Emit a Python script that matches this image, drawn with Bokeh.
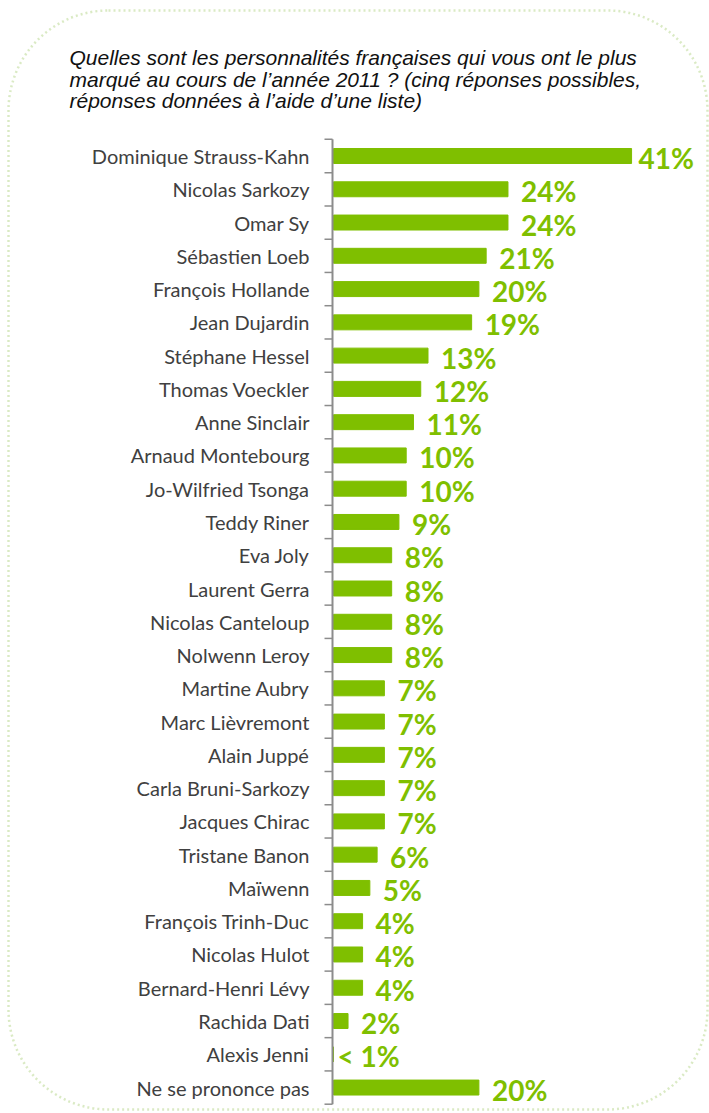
from bokeh.plotting import figure
from bokeh.models import Range1d, ColumnDataSource, BoxAnnotation
from bokeh.core.properties import value
from bokeh.embed import file_html
from bokeh.resources import INLINE

# ---- data ----
names = ["Dominique Strauss-Kahn", "Nicolas Sarkozy", "Omar Sy", "Sébastien Loeb",
         "François Hollande", "Jean Dujardin", "Stéphane Hessel", "Thomas Voeckler",
         "Anne Sinclair", "Arnaud Montebourg", "Jo-Wilfried Tsonga", "Teddy Riner",
         "Eva Joly", "Laurent Gerra", "Nicolas Canteloup", "Nolwenn Leroy",
         "Martine Aubry", "Marc Lièvremont", "Alain Juppé", "Carla Bruni-Sarkozy",
         "Jacques Chirac", "Tristane Banon", "Maïwenn", "François Trinh-Duc",
         "Nicolas Hulot", "Bernard-Henri Lévy", "Rachida Dati", "Alexis Jenni",
         "Ne se prononce pas"]
values = [41, 24, 24, 21, 20, 19, 13, 12, 11, 10, 10, 9, 8, 8, 8, 8, 7, 7, 7, 7, 7,
          6, 5, 4, 4, 4, 2, 0, 20]
value_labels = ["41%", "24%", "24%", "21%", "20%", "19%", "13%", "12%", "11%", "10%",
                "10%", "9%", "8%", "8%", "8%", "8%", "7%", "7%", "7%", "7%", "7%",
                "6%", "5%", "4%", "4%", "4%", "2%", "< 1%", "20%"]
title_lines = ["Quelles sont les personnalités françaises qui vous ont le plus",
               "marqué au cours de l\u2019année 2011 ? (cinq réponses possibles,",
               "réponses données à l\u2019aide d\u2019une liste)"]

# ---- layout ----
W, H = 709, 1113
X0_PX = 333.0          # pixel position of value 0
PX_PER_UNIT = 7.27
Y0_PX = 155.5          # pixel position of first row centre
ROW_PX = 33.27
n = len(names)

def px_x(px):
    return (px - X0_PX) / PX_PER_UNIT

def px_y(py):
    return (py - Y0_PX) / ROW_PX

p = figure(width=W, height=H, output_backend="svg", toolbar_location=None,
           x_range=Range1d(px_x(0), px_x(W)),
           y_range=Range1d(px_y(H), px_y(0)),
           x_axis_location=None, y_axis_location=None,
           min_border=0, title=None)
p.outline_line_color = None
p.grid.visible = False
p.background_fill_color = "white"
p.border_fill_color = "white"

rows = list(range(n))
max_v = max(values)
offsets = [7 if v == max_v else (4 if v < 1 else 13) for v in values]
src = ColumnDataSource(dict(y=rows, v=values, name=names, lab=value_labels, off=offsets))

# rounded dotted frame
p.add_layout(BoxAnnotation(left=px_x(8), right=px_x(707), top=px_y(10), bottom=px_y(1109),
                           fill_color=None, line_color="#86ba3c", line_width=2.5,
                           line_dash="2 3", border_radius=100))

# bars
p.hbar(y="y", left=0, right="v", height=0.45, color="#7fbf00", source=src)

# axis line + ticks (between categories)
ax_x = px_x(332)
p.segment(x0=[ax_x], y0=[-0.5], x1=[ax_x], y1=[n - 0.5], line_color="#8c8c8c", line_width=2)
bounds = [i - 0.5 for i in range(n + 1)]
p.segment(x0=[px_x(324)] * len(bounds), y0=bounds, x1=[ax_x] * len(bounds), y1=bounds,
          line_color="#8c8c8c", line_width=1.5)

# category labels
p.text(x=0, y="y", text="name", source=src, x_offset=-24, text_align="right",
       text_baseline="middle", text_font=value("Lato"), text_font_size="20px",
       text_color="#404040")

# value labels
p.text(x="v", y="y", text="lab", source=src, x_offset="off", y_offset=2,
       text_align="left", text_baseline="middle", text_font=value("Lato"),
       text_font_style="bold", text_font_size="28px", text_color="#7fbf00")

# title
base = [57, 79, 100]
p.text(x=[px_x(69)] * 3, y=[px_y(b) for b in base], text=title_lines,
       text_align="left", text_baseline="alphabetic",
       text_font=value("Liberation Sans"), text_font_style="italic",
       text_font_size="21px", text_color="#111111")

open("out.html", "w").write(file_html(p, INLINE))
